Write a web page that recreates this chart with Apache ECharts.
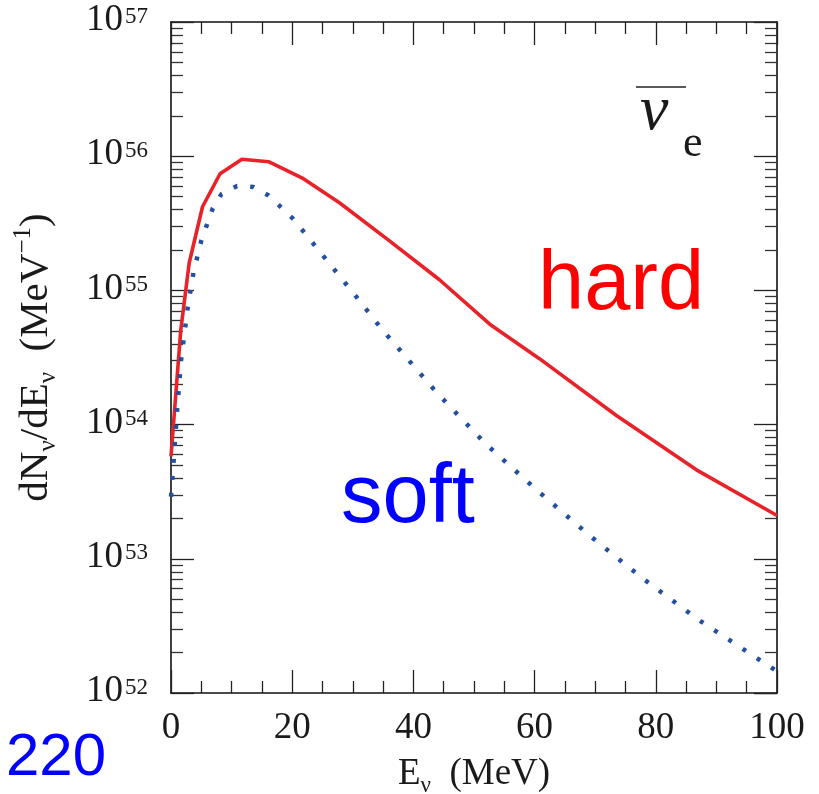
<!DOCTYPE html>
<html>
<head>
<meta charset="utf-8">
<script src="https://cdn.jsdelivr.net/npm/echarts@6/dist/echarts.min.js"></script>
<style>
  html, body { margin: 0; padding: 0; background: #fff; }
  #chart { width: 819px; height: 794px; }
</style>
</head>
<body>
<div id="chart"></div>
<script>
// Anti-electron-neutrino spectrum dN/dE (MeV^-1) versus energy (MeV)
const energyHard   = [0, 1.6, 3.0, 5.2, 8.1, 11.7, 16.1, 21.6, 27.8, 36.0, 44.3, 52.6, 60.8, 73.5, 86.7, 100];
const spectrumHard = [5.8e53, 5.0e54, 1.6e55, 4.2e55, 7.4e55, 9.5e55, 9.1e55, 6.9e55, 4.5e55, 2.35e55,
                      1.2e55, 5.6e54, 3.1e54, 1.17e54, 4.6e53, 2.1e53];

const energySoft   = [0, 0.4, 1.0, 1.65, 2.75, 3.7, 5.0, 6.9, 8.3, 10.9, 13.6, 16.1, 20.2, 25.6, 31.0,
                      34.7, 43.8, 51.9, 60.2, 69.0, 77.9, 87.1, 100];
const spectrumSoft = [2.9e53, 5.1e53, 1.26e54, 3.0e54, 7.4e54, 1.35e55, 2.35e55, 4.1e55, 5.2e55, 6.0e55,
                      5.9e55, 5.1e55, 3.4e55, 1.7e55, 8.5e54, 5.2e54, 1.74e54, 7.2e53, 3.3e53, 1.5e53,
                      7.1e52, 3.5e52, 1.45e52];

const xRange = [0, 100];
const xStep = 20;
const decadeRange = [52, 57];

const pairs = (xs, ys) => xs.map((x, i) => [x, ys[i]]);

// minor log ticks at 2..9 x 10^n, expressed as exponents on a linear helper axis
const minorExp = [];
for (let n = decadeRange[0]; n < decadeRange[1]; n++) {
  for (let k = 2; k <= 9; k++) minorExp.push(n + Math.log10(k));
}

const SERIF = "'Liberation Serif', 'Times New Roman', serif";
const SANS = "'Liberation Sans', Arial, sans-serif";
const INK = '#1a1a1a';

const frameLine = { show: true, onZero: false, lineStyle: { color: '#111', width: 1.6 } };
const majorTick = { show: true, inside: true, length: 23, lineStyle: { color: '#222', width: 1.3 } };

function titleRich(size) {
  const small = Math.round(size * 0.62);
  return {
    t: { fontFamily: SERIF, fontSize: size, color: INK, lineHeight: size + 9, verticalAlign: 'middle' },
    sub: { fontFamily: SERIF, fontSize: small, color: INK, lineHeight: small, verticalAlign: 'bottom' },
    sup: { fontFamily: SERIF, fontSize: small, color: INK, lineHeight: small, verticalAlign: 'top' }
  };
}

function xAxisFor(pos, labels) {
  return {
    type: 'value', position: pos, min: xRange[0], max: xRange[1], interval: xStep,
    axisLine: frameLine, axisTick: majorTick,
    minorTick: { show: true, splitNumber: 4, length: 12, lineStyle: { color: '#222', width: 1.3 } },
    splitLine: { show: false }, minorSplitLine: { show: false },
    axisLabel: labels ? { show: true, margin: 17, fontFamily: SERIF, fontSize: 37, color: INK } : { show: false },
    name: labels ? '{t|E}{sub|ν}{t|  (MeV)}' : '',
    nameLocation: 'middle', nameGap: 58,
    nameTextStyle: { color: INK, rich: titleRich(37) }
  };
}

function logAxisFor(pos, labels) {
  return {
    type: 'log', logBase: 10, position: pos,
    min: Math.pow(10, decadeRange[0]), max: Math.pow(10, decadeRange[1]), splitNumber: 5,
    axisLine: frameLine, axisTick: majorTick,
    splitLine: { show: false },
    axisLabel: labels ? {
      show: true, margin: 23,
      formatter: v => '{b|10}{s|' + Math.round(Math.log10(v)) + '}',
      rich: {
        b: { fontFamily: SERIF, fontSize: 37, color: INK, lineHeight: 34, verticalAlign: 'bottom', padding: [0, 2, 0, 0] },
        s: { fontFamily: SERIF, fontSize: 23, color: INK, lineHeight: 22, verticalAlign: 'top' }
      }
    } : { show: false },
    name: labels ? '{t|dN}{sub|ν}{t|/dE}{sub|ν}{t|  (MeV}{sup|−1}{t|)}' : '',
    nameLocation: 'middle', nameGap: 110, nameRotate: 90,
    nameTextStyle: { color: INK, rich: titleRich(41) }
  };
}

function minorLogAxisFor(pos) {
  return {
    type: 'value', position: pos, min: decadeRange[0], max: decadeRange[1],
    axisLine: { show: false, onZero: false },
    axisTick: { show: true, inside: true, length: 12, customValues: minorExp, lineStyle: { color: '#333', width: 1.3 } },
    axisLabel: { show: false },
    splitLine: { show: false }
  };
}

const chart = echarts.init(document.getElementById('chart'), null, { renderer: 'canvas' });

chart.setOption({
  animation: false,
  backgroundColor: '#fff',
  grid: { left: 171, right: 42, top: 22, bottom: 101, containLabel: false, outerBoundsMode: 'none' },
  xAxis: [xAxisFor('bottom', true), xAxisFor('top', false)],
  yAxis: [logAxisFor('left', true), logAxisFor('right', false), minorLogAxisFor('left'), minorLogAxisFor('right')],
  series: [
    {
      name: 'hard', type: 'line', xAxisIndex: 0, yAxisIndex: 0,
      data: pairs(energyHard, spectrumHard),
      symbol: 'none', smooth: false,
      lineStyle: { color: '#e82229', width: 3.6, join: 'round' }
    },
    {
      name: 'soft', type: 'line', xAxisIndex: 0, yAxisIndex: 0,
      data: pairs(energySoft, spectrumSoft),
      symbol: 'none', smooth: false,
      lineStyle: { color: '#24509f', width: 4.5, type: [4, 13], cap: 'butt' }
    }
  ],
  graphic: [
    // anti-neutrino symbol in the upper right
    { type: 'line', shape: { x1: 636, y1: 87, x2: 686, y2: 87 }, style: { stroke: '#222', lineWidth: 1.5 } },
    { type: 'text', left: 640, top: 80, style: { text: 'ν', font: "italic 64px " + SERIF, fill: INK } },
    { type: 'text', left: 683, top: 122, style: { text: 'e', font: "44px " + SERIF, fill: INK } },
    // curve captions
    { type: 'text', left: 538, top: 245, style: { text: 'hard', font: "83px " + SANS, fill: '#ff0000' } },
    { type: 'text', left: 341, top: 458, style: { text: 'soft', font: "83px " + SANS, fill: '#0000ff' } },
    { type: 'text', left: 6, top: 728, style: { text: '220', font: "60px " + SANS, fill: '#0000ff' } }
  ]
});
</script>
</body>
</html>
